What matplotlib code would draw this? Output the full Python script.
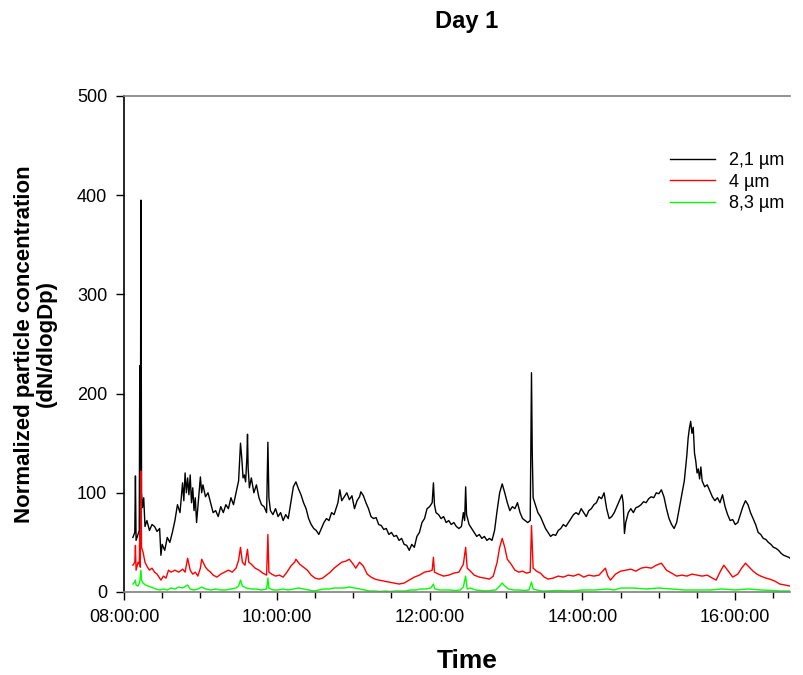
import numpy as np
import matplotlib
matplotlib.use("Agg")
import matplotlib.pyplot as plt
from matplotlib.ticker import MultipleLocator

plt.rcParams["font.family"] = ["Liberation Sans", "DejaVu Sans"]

# minutes after 08:00 and concentration
black_min = [7, 8.5, 9, 9.5, 11, 12, 12.4, 12.8, 13.3, 13.8, 14.5, 15.5,
             16.5, 18, 20, 22, 24, 26, 28, 29, 30, 32, 34, 36,
             38, 40, 42, 44, 45, 46, 47, 48, 49, 50, 51, 52,
             53, 54, 55, 56, 57, 58, 60, 61, 62, 64, 66, 68,
             70, 72, 74, 76, 78, 80, 82, 84, 86, 88, 90, 91.5,
             92.5, 93.5, 94.5, 95.5, 96.5, 97, 97.5, 98.5, 100, 102, 104, 106,
             108, 110, 112, 113, 113.8, 115, 117, 119, 121, 123, 125, 127,
             129, 131, 133, 135, 137, 139, 141, 143, 145, 147, 149, 151,
             153, 155, 157, 159, 161, 163, 165, 167, 168, 169.5, 171, 173,
             175, 177, 179, 181, 183, 185, 186, 188, 190, 192, 194, 196,
             198, 200, 202, 204, 206, 208, 210, 212, 214, 216, 218, 220,
             222, 224, 226, 228, 230, 232, 234, 236, 238, 240, 242, 243,
             243.8, 245, 247, 249, 251, 253, 255, 257, 259, 261, 263, 265,
             266.5, 267.5, 268.3, 269, 271, 273, 275, 277, 279, 281, 283, 285,
             287, 289, 291, 293, 295, 297, 299, 301, 303, 305, 307, 309,
             311, 313, 315, 317, 319, 320, 320.6, 321.3, 323, 325, 327, 329,
             331, 333, 335, 337, 339, 341, 343, 345, 347, 349, 351, 353,
             355, 357, 359, 361, 363, 365, 367, 369, 371, 373, 375, 377,
             379, 381, 383, 385, 387, 389, 391, 392, 393, 394, 396, 398,
             400, 402, 404, 406, 408, 410, 412, 414, 416, 418, 420, 422,
             424, 426, 428, 430, 432, 434, 436, 438, 440, 442, 443, 444,
             445, 446, 447, 448, 449, 450, 451, 452, 453, 454, 456, 458,
             460, 462, 464, 466, 468, 470, 472, 474, 476, 478, 480, 482,
             484, 486, 488, 490, 492, 494, 496, 498, 500, 502, 504, 506,
             508, 510, 512, 514, 516, 518, 520, 522, 523]
black_val = [55, 60, 117, 52, 58, 62, 228, 60, 395, 100, 85, 95,
             66, 72, 62, 68, 66, 61, 64, 37, 48, 42, 55, 50,
             60, 72, 88, 80, 95, 110, 92, 120, 100, 115, 98, 118,
             90, 105, 82, 95, 70, 85, 116, 100, 108, 96, 100, 90,
             80, 82, 76, 86, 80, 88, 84, 95, 88, 100, 112, 150,
             135, 115, 118, 111, 135, 159, 125, 105, 115, 100, 108, 95,
             88, 86, 80, 151, 95, 82, 78, 84, 76, 80, 72, 78,
             74, 90, 106, 111, 104, 98, 90, 84, 74, 68, 64, 62,
             58, 64, 70, 74, 72, 80, 78, 86, 90, 103, 92, 96,
             100, 93, 97, 84, 92, 96, 101, 97, 90, 84, 76, 74,
             75, 68, 67, 63, 64, 58, 60, 56, 57, 52, 54, 48,
             47, 42, 48, 45, 56, 60, 70, 74, 84, 86, 90, 110,
             88, 80, 78, 74, 76, 70, 72, 68, 70, 66, 64, 66,
             80, 72, 106, 78, 68, 64, 60, 56, 58, 54, 56, 52,
             54, 52, 62, 82, 100, 109, 100, 90, 82, 86, 84, 90,
             80, 74, 72, 70, 72, 221, 140, 95, 88, 80, 76, 70,
             64, 60, 56, 58, 57, 62, 64, 68, 66, 70, 74, 78,
             80, 78, 84, 80, 76, 82, 84, 88, 90, 96, 94, 100,
             84, 74, 76, 80, 86, 92, 98, 90, 59, 70, 80, 84,
             80, 85, 86, 88, 91, 90, 94, 96, 95, 100, 99, 103,
             96, 84, 74, 68, 64, 70, 84, 98, 112, 138, 155, 165,
             172, 160, 166, 140, 132, 120, 124, 114, 126, 112, 106, 108,
             102, 96, 92, 95, 90, 98, 86, 78, 72, 73, 68, 70,
             78, 86, 92, 88, 80, 74, 68, 60, 58, 54, 53, 50,
             48, 45, 44, 42, 39, 37, 36, 35, 34]

red_min = [7, 8.5, 9, 9.5, 11, 12, 12.4, 12.8, 13.3, 13.8, 15, 16.5,
           18, 20, 22, 24, 26, 28, 29, 31, 33, 35, 37, 40,
           43, 46, 48, 50, 52, 54, 56, 58, 60, 61, 64, 66,
           68, 70, 73, 76, 79, 82, 85, 88, 90, 91.5, 93, 95,
           97, 98, 100, 103, 106, 109, 112, 113, 113.8, 116, 119, 122,
           125, 128, 131, 134, 135, 138, 141, 144, 147, 150, 153, 156,
           159, 162, 165, 168, 171, 174, 177, 180, 182, 185, 188, 191,
           194, 197, 200, 204, 208, 212, 216, 220, 224, 228, 232, 236,
           240, 242, 243, 243.8, 247, 251, 255, 259, 263, 266.5, 268.3, 269.5,
           272, 275, 279, 283, 287, 290, 293, 295, 297, 299, 301, 304,
           307, 310, 313, 316, 319, 320, 321.3, 324, 327, 330, 333, 337,
           341, 345, 349, 353, 357, 361, 365, 369, 373, 378, 380, 382,
           386, 390, 394, 398, 402, 406, 410, 414, 418, 422, 426, 430,
           434, 438, 442, 446, 450, 454, 458, 462, 465, 468, 471, 474,
           478, 482, 485, 488, 491, 494, 497, 500, 504, 507, 511, 515,
           519, 523]
red_val = [27, 30, 47, 22, 30, 28, 60, 25, 122, 45, 40, 30,
           26, 22, 24, 20, 18, 14, 12, 16, 14, 22, 20, 22,
           20, 23, 20, 34, 22, 18, 20, 16, 24, 33, 25, 22,
           20, 17, 15, 18, 20, 22, 20, 24, 32, 45, 30, 27,
           43, 30, 28, 24, 22, 19, 17, 58, 20, 18, 16, 17,
           15, 20, 26, 30, 33, 28, 25, 22, 17, 14, 13, 14,
           17, 20, 24, 27, 30, 31, 33, 28, 24, 30, 26, 18,
           15, 13, 12, 11, 10, 9, 8, 9, 12, 15, 17, 20,
           21, 22, 35, 20, 18, 16, 17, 19, 20, 28, 45, 24,
           21, 17, 15, 14, 13, 16, 30, 45, 54, 45, 33, 28,
           22, 20, 21, 19, 20, 67, 24, 21, 19, 15, 13, 14,
           16, 15, 17, 16, 18, 15, 17, 16, 17, 24, 16, 12,
           18, 21, 22, 23, 21, 24, 25, 24, 27, 29, 22, 19,
           16, 17, 16, 18, 17, 16, 17, 14, 12, 20, 27, 22,
           15, 18, 24, 29, 25, 21, 18, 16, 14, 13, 11, 8,
           7, 6]

green_min = [7, 8.5, 9, 9.5, 11, 12.4, 13.3, 13.8, 15, 17, 19, 21,
             23, 25, 28, 31, 34, 37, 40, 43, 46, 50, 52, 55,
             58, 61, 64, 68, 72, 76, 80, 84, 88, 90, 91.5, 93,
             96, 100, 104, 108, 112, 113, 113.8, 117, 121, 125, 129, 133,
             137, 141, 145, 149, 153, 157, 161, 165, 169, 173, 177, 181,
             185, 189, 193, 197, 201, 205, 209, 213, 217, 221, 225, 229,
             233, 237, 241, 243, 244, 248, 252, 256, 260, 264, 266.5, 268.3,
             269.5, 272, 276, 280, 284, 288, 292, 295, 297, 299, 302, 306,
             310, 314, 318, 320, 321.3, 324, 328, 332, 340, 350, 360, 370,
             380, 385, 390, 400, 410, 420, 430, 440, 450, 460, 470, 480,
             490, 500, 510, 515, 523]
green_val = [8, 10, 12, 7, 6, 10, 22, 12, 9, 7, 6, 5,
             4, 3, 2, 3, 2, 4, 3, 5, 4, 7, 3, 2,
             3, 5, 3, 2, 3, 2, 2, 3, 4, 6, 12, 6,
             4, 3, 3, 2, 3, 14, 4, 2, 2, 3, 2, 3,
             4, 3, 2, 1, 2, 3, 3, 4, 4, 4, 5, 4,
             3, 2, 1, 1, 0.5, 1, 0.5, 1, 1, 1, 2, 2,
             3, 3, 4, 8, 3, 2, 2, 2, 1.5, 2, 5, 16,
             3, 4, 2, 1.5, 1, 1.5, 2, 6, 9, 6, 3, 2,
             2, 1.5, 2, 10, 3, 2, 1, 1, 1.5, 1, 2, 2,
             3, 2, 4, 4, 3, 4, 3, 2, 2, 2, 3, 2,
             3, 2, 1.5, 1, 1]

series = [("2,1 µm", black_min, black_val, "black"),
          ("4 µm", red_min, red_val, "#ff0000"),
          ("8,3 µm", green_min, green_val, "#00ff00")]


def main():
    fig = plt.figure(figsize=(8.04, 6.75), dpi=100)
    ax = fig.add_axes([0.1542, 0.1230, 0.8284, 0.7348])

    for label, t, v, c in series:
        hours = 8 + np.asarray(t, dtype=float) / 60.0
        ax.plot(hours, v, color=c, lw=1.0, label=label)

    ax.set_xlim(8, 8 + 523 / 60)
    ax.set_ylim(0, 500)
    xt = [8, 10, 12, 14, 16]
    ax.set_xticks(xt)
    ax.set_xticklabels([f"{h:02d}:00:00" for h in xt])
    ax.xaxis.set_minor_locator(MultipleLocator(0.5))
    ax.set_yticks(range(0, 501, 100))
    ax.tick_params(axis="both", which="major", direction="out", length=6,
                   width=1, labelsize=13, pad=6)
    ax.tick_params(axis="x", which="minor", direction="out", length=4, width=1)

    ax.spines["right"].set_visible(False)
    ax.spines["top"].set_color("#7f7f7f")
    ax.spines["bottom"].set_color("#7f7f7f")
    ax.spines["left"].set_color("black")
    for s in ax.spines.values():
        s.set_linewidth(1.2)

    ax.set_xlabel("Time", fontsize=19, fontweight="bold")
    ax.xaxis.set_label_coords(0.515, -0.115)
    ax.set_ylabel("Normalized particle concentration\n(dN/dlogDp)",
                  fontsize=16, fontweight="bold", linespacing=1.05)
    ax.yaxis.set_label_coords(-0.101, 0.5)
    fig.text(0.581, 0.968, "Day 1", fontsize=17, fontweight="bold",
             ha="center", va="center")

    ax.legend(loc="upper left", bbox_to_anchor=(0.806, 0.905), frameon=False,
              fontsize=13, handlelength=2.5, handletextpad=0.75,
              labelspacing=0.25, borderpad=0)

    fig.savefig("out.png", dpi=100)
    plt.close(fig)


if __name__ == "__main__":
    main()
